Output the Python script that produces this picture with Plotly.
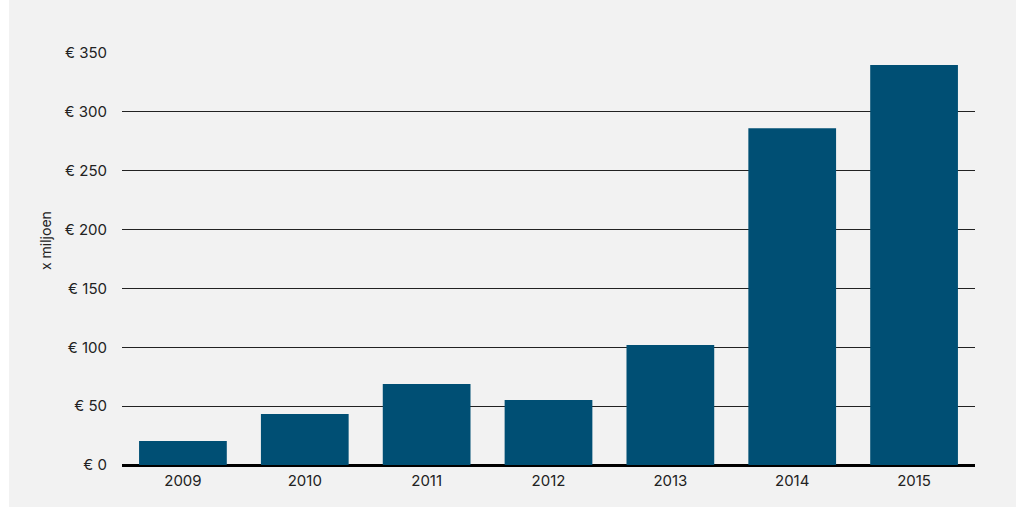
import plotly.graph_objects as go

years = ["2009", "2010", "2011", "2012", "2013", "2014", "2015"]
values = [20.4, 43.3, 68.8, 55.2, 101.9, 286.0, 339.8]
y_ticks = [0, 50, 100, 150, 200, 250, 300, 350]
y_tick_labels = ["€ 0", "€ 50", "€ 100", "€ 150", "€ 200", "€ 250", "€ 300", "€ 350"]

fig = go.Figure()
fig.add_trace(go.Bar(x=years, y=values, marker_color="#004f74", marker_line_width=0))

L, R, T, B = 122, 49, 53, 42
W, H = 1024, 507
pw, ph = W - L - R, H - T - B

def px_x(p):
    return (p - L) / pw

def px_y(p):
    return (H - B - p) / ph

fig.add_shape(type="rect", xref="paper", yref="paper",
              x0=px_x(9), x1=px_x(1016), y0=px_y(507), y1=px_y(0),
              fillcolor="#f2f2f2", line_width=0, layer="below")

fig.add_annotation(text="x miljoen", xref="paper", yref="paper",
                   x=px_x(45), y=px_y(241), xanchor="center", yanchor="middle",
                   textangle=-90, showarrow=False,
                   font=dict(size=14, color="#222"))

fig.update_layout(
    width=W, height=H,
    margin=dict(l=L, r=R, t=T, b=B),
    paper_bgcolor="white",
    plot_bgcolor="rgba(0,0,0,0)",
    bargap=0.28,
    showlegend=False,
    font=dict(family="Inter, Open Sans, sans-serif", size=15, color="#222"),
    xaxis=dict(showgrid=False, ticks="outside", ticklen=2, tickcolor="rgba(0,0,0,0)",
               showline=False, zeroline=False),
    yaxis=dict(range=[0, 350], tickvals=y_ticks, ticktext=y_tick_labels,
               showgrid=True, gridcolor="#222", gridwidth=1,
               zeroline=True, zerolinecolor="#000", zerolinewidth=3,
               ticks="outside", ticklen=11, tickcolor="rgba(0,0,0,0)",
               showline=False),
)

fig.write_html("out.html")
